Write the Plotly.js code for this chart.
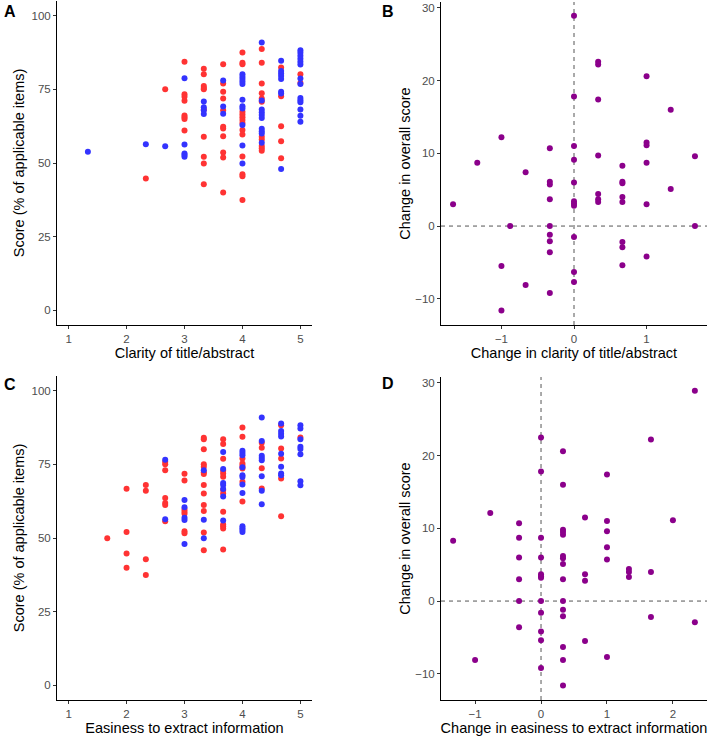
<!DOCTYPE html>
<html>
<head>
<meta charset="utf-8">
<script src="https://cdn.plot.ly/plotly-3.0.1.min.js"></script>
<style>html,body{margin:0;padding:0;background:#fff;}#chart{width:709px;height:737px;}</style>
</head>
<body>
<div id="chart"></div>
<script>
// Panel A: clarity of title/abstract vs score
var aRedX = [2.333, 2.667,
  3,3,3,3,3,3,3,3,
  3.333,3.333,3.333,3.333,3.333,3.333,3.333,3.333,3.333,3.333,
  3.667,3.667,3.667,3.667,3.667,3.667,3.667,3.667,3.667,3.667,3.667,
  4,4,4,4,4,4,4,4,4,4,4,4,4,4,
  4.333,4.333,4.333,4.333,4.333,4.333,4.333,4.333,4.333,4.333,4.333,
  4.667,4.667,4.667,4.667,4.667,
  5,5];
var aRedY = [44.7, 75.0,
  84.4,73.3,72.5,71.1,66.1,65.5,64.9,61.0,
  82.0,80.1,76.1,75.5,75.0,68.2,58.9,52.1,49.8,42.8,
  83.5,77.0,74.2,71.9,67.9,62.3,61.7,59.1,53.6,51.9,40.0,
  87.5,84.0,83.5,67.4,66.5,65.5,64.6,63.6,61.2,59.7,52.2,46.2,45.5,37.4,
  88.7,84.0,77.0,73.7,71.9,70.8,58.9,58.0,55.8,55.0,54.2,
  82.4,72.7,62.5,57.4,51.6,
  80.1,77.2];
var aBlueX = [1.333, 2.333, 2.667,
  3,3,3,3,3,
  3.333,3.333,3.333,3.333,
  3.667,3.667,3.667,
  4,4,4,4,4,4,4,4,4,4,4,
  4.333,4.333,4.333,4.333,4.333,4.333,4.333,4.333,4.333,4.333,
  4.667,4.667,4.667,4.667,4.667,4.667,4.667,4.667,
  5,5,5,5,5,5,5,5,5,5,5,5,5,5];
var aBlueY = [53.8, 56.4, 55.7,
  78.8,56.3,53.2,52.7,52.1,
  70.9,68.9,67.9,66.6,
  78.0,69.2,66.7,
  80.1,79.3,78.5,77.7,76.8,71.5,69.3,68.5,62.9,55.9,49.8,
  90.9,71.2,68.2,67.2,66.3,65.3,61.6,60.8,60.0,56.9,
  84.7,81.2,80.4,79.5,78.5,74.2,73.6,48.0,
  88.3,87.4,86.4,85.4,84.4,83.4,78.7,76.8,72.1,71.3,70.6,68.2,66.0,64.0];

// Panel B: change in clarity vs change in overall score
var bX = [-1.667,-1.333,-1,-1,-1,-0.88,-0.667,-0.667,
  -0.333,-0.333,-0.333,-0.333,-0.333,-0.333,-0.333,-0.333,-0.333,
  0,0,0,0,0,0,0,0,0,0,0,
  0.333,0.333,0.333,0.333,0.333,0.333,0.333,
  0.667,0.667,0.667,0.667,0.667,0.667,0.667,0.667,
  1,1,1,1,1,1,
  1.333,1.333,1.667,1.667];
var bY = [3.0,8.7,12.2,-5.5,-11.6,0,7.4,-8.1,
  10.7,6.1,5.7,3.7,0,-1.2,-2.1,-3.6,-9.2,
  28.9,17.8,11.0,9.1,6.0,3.4,3.1,2.8,-1.5,-6.3,-7.7,
  22.6,22.2,17.4,9.7,4.4,3.7,3.3,
  8.3,6.1,5.9,4.0,3.3,-2.2,-2.9,-5.4,
  20.6,11.5,11.1,8.7,3.0,-4.2,
  16.0,5.1,9.6,0];

// Panel C: easiness to extract information vs score
var cRedX = [1.667, 2,2,2,2, 2.333,2.333,2.333,2.333,
  2.667,2.667,2.667,2.667,2.667,2.667,2.667,
  3,3,3,3,3,3,3,
  3.333,3.333,3.333,3.333,3.333,3.333,3.333,3.333,3.333,3.333,3.333,3.333,3.333,
  3.667,3.667,3.667,3.667,3.667,3.667,3.667,3.667,3.667,3.667,3.667,3.667,3.667,
  4,4,4,4,4,4,4,4,
  4.333,4.333,4.333,4.333,
  4.667,4.667,4.667,4.667,4.667,
  5];
var cRedY = [49.9, 66.7,52.0,44.7,39.9, 68.0,66.0,42.8,37.4,
  75.9,75.0,73.0,63.6,61.9,61.2,55.7,
  71.8,69.5,59.7,58.9,58.2,52.3,51.6,
  84.0,83.5,80.1,75.0,74.2,72.3,71.7,68.0,65.1,61.2,59.2,51.9,45.8,
  83.5,81.9,76.9,72.8,71.9,70.8,66.3,65.1,58.9,54.6,54.0,53.2,46.1,
  87.5,84.4,77.0,75.3,74.5,73.6,69.1,62.4,
  82.3,80.6,73.7,66.8,
  88.3,80.4,77.0,70.2,57.4,
  84.1];
var cBlueX = [2.667,2.667,
  3,3,3,3,3,
  3.333,3.333,3.333,
  3.667,3.667,3.667,3.667,3.667,3.667,3.667,
  4,4,4,4,4,4,4,4,4,4,4,4,
  4.333,4.333,4.333,4.333,4.333,4.333,4.333,4.333,
  4.667,4.667,4.667,4.667,4.667,4.667,4.667,4.667,
  5,5,5,5,5,5,5,5];
var cBlueY = [76.6,56.4,
  62.9,60.4,56.9,56.1,48.0,
  73.0,56.2,49.9,
  79.2,73.4,68.7,68.0,66.6,64.1,55.9,
  79.6,78.9,78.1,74.0,71.3,70.7,68.2,65.3,54.0,53.3,52.7,52.0,
  90.9,82.9,77.9,77.2,76.4,71.0,66.0,61.5,
  88.9,86.3,85.4,84.5,78.6,74.2,71.9,71.3,
  88.3,87.2,83.5,81.0,80.2,78.4,69.3,67.9];

// Panel D: change in easiness vs change in overall score
var dX = [-1.333,-1,-0.77,
  -0.333,-0.333,-0.333,-0.333,-0.333,-0.333,
  0,0,0,0,0,0,0,0,0,0,0,0,
  0.333,0.333,0.333,0.333,0.333,0.333,0.333,0.333,0.333,0.333,0.333,0.333,0.333,0.333,0.333,
  0.667,0.667,0.667,0.667,
  1,1,1,1,1,1,
  1.333,1.333,1.333,
  1.667,1.667,1.667,
  2, 2.333,2.333];
var dY = [8.3,-8.1,12.1,
  10.7,8.7,6.0,3.0,0,-3.6,
  22.5,17.8,8.7,6.0,3.7,3.4,3.2,0,-1.6,-4.2,-5.4,-9.2,
  20.6,16.0,9.8,9.5,9.1,6.2,5.9,5.1,3.0,0,-1.2,-2.1,-6.3,-8.1,-11.6,
  11.5,3.7,2.8,-5.5,
  17.4,11.0,9.6,7.4,5.7,-7.7,
  4.4,4.0,3.3,
  22.2,4.0,-2.2,
  11.1, 28.9,-2.9];

var xTitles = ['Clarity of title/abstract', 'Change in clarity of title/abstract',
               'Easiness to extract information', 'Change in easiness to extract information'];
var yTitles = ['Score (% of applicable items)', 'Change in overall score'];
var panelLetters = ['A', 'B', 'C', 'D'];

var RED = 'rgb(255,51,51)', BLUE = 'rgb(51,51,255)', PURPLE = '#8B008B';
var mk = function (c) { return {color: c, size: 6, line: {width: 0}}; };

var traces = [
  {x: aRedX, y: aRedY, xaxis: 'x', yaxis: 'y', mode: 'markers', type: 'scatter', marker: mk(RED)},
  {x: aBlueX, y: aBlueY, xaxis: 'x', yaxis: 'y', mode: 'markers', type: 'scatter', marker: mk(BLUE)},
  {x: bX, y: bY, xaxis: 'x2', yaxis: 'y2', mode: 'markers', type: 'scatter', marker: mk(PURPLE)},
  {x: cRedX, y: cRedY, xaxis: 'x3', yaxis: 'y3', mode: 'markers', type: 'scatter', marker: mk(RED)},
  {x: cBlueX, y: cBlueY, xaxis: 'x3', yaxis: 'y3', mode: 'markers', type: 'scatter', marker: mk(BLUE)},
  {x: dX, y: dY, xaxis: 'x4', yaxis: 'y4', mode: 'markers', type: 'scatter', marker: mk(PURPLE)}
];

var W = 709, H = 737;
function dx(a, b) { return [a / W, b / W]; }
function dy(top, bottom) { return [1 - bottom / H, 1 - top / H]; }

var tickFont = {family: 'Liberation Sans, Arial, sans-serif', size: 11.5, color: '#4D4D4D'};
var titleFont = {family: 'Liberation Sans, Arial, sans-serif', size: 14.5, color: '#000'};
function ax(domain, range, title, standoff, extra) {
  var o = {
    domain: domain, range: range, title: {text: title, font: titleFont, standoff: standoff},
    showline: true, linecolor: '#000', linewidth: 1, mirror: false,
    ticks: 'outside', ticklen: 3, tickwidth: 1, tickcolor: '#333',
    tickfont: tickFont, showgrid: false, zeroline: false, fixedrange: true
  };
  for (var k in extra) o[k] = extra[k];
  return o;
}

var dashLine = {color: '#555', width: 1, dash: '4px,4px'};
var layout = {
  width: W, height: H, margin: {l: 0, r: 0, t: 0, b: 0},
  paper_bgcolor: '#fff', plot_bgcolor: '#fff', showlegend: false,
  font: {family: 'Liberation Sans, Arial, sans-serif'},
  xaxis: ax(dx(57, 312), [0.8, 5.2], xTitles[0], 4, {anchor: 'y', tickvals: [1, 2, 3, 4, 5]}),
  yaxis: ax(dy(1, 325), [-5, 105], yTitles[0], 3, {anchor: 'x', tickvals: [0, 25, 50, 75, 100]}),
  xaxis2: ax(dx(441, 707), [-1.833, 1.833], xTitles[1], 4, {anchor: 'y2', tickvals: [-1, 0, 1]}),
  yaxis2: ax(dy(2, 325), [-13.6, 30.8], yTitles[1], 1, {anchor: 'x2', tickvals: [-10, 0, 10, 20, 30]}),
  xaxis3: ax(dx(57, 312), [0.8, 5.2], xTitles[2], 4, {anchor: 'y3', tickvals: [1, 2, 3, 4, 5]}),
  yaxis3: ax(dy(376, 700), [-5, 105], yTitles[0], 3, {anchor: 'x3', tickvals: [0, 25, 50, 75, 100]}),
  xaxis4: ax(dx(441, 707), [-1.517, 2.517], xTitles[3], 4, {anchor: 'y4', tickvals: [-1, 0, 1, 2]}),
  yaxis4: ax(dy(377, 700), [-13.6, 30.8], yTitles[1], 1, {anchor: 'x4', tickvals: [-10, 0, 10, 20, 30]}),
  shapes: [
    {type: 'line', xref: 'x2', yref: 'y2 domain', x0: 0, x1: 0, y0: 0, y1: 1, line: dashLine, layer: 'below'},
    {type: 'line', xref: 'x2 domain', yref: 'y2', x0: 0, x1: 1, y0: 0, y1: 0, line: dashLine, layer: 'below'},
    {type: 'line', xref: 'x4', yref: 'y4 domain', x0: 0, x1: 0, y0: 0, y1: 1, line: dashLine, layer: 'below'},
    {type: 'line', xref: 'x4 domain', yref: 'y4', x0: 0, x1: 1, y0: 0, y1: 0, line: dashLine, layer: 'below'}
  ],
  annotations: [
    {text: '<b>' + panelLetters[0] + '</b>', xref: 'paper', yref: 'paper', x: 2 / W, y: 1 - 11 / H, xanchor: 'left', yanchor: 'middle', showarrow: false, font: {size: 16, color: '#000'}},
    {text: '<b>' + panelLetters[1] + '</b>', xref: 'paper', yref: 'paper', x: 380 / W, y: 1 - 11 / H, xanchor: 'left', yanchor: 'middle', showarrow: false, font: {size: 16, color: '#000'}},
    {text: '<b>' + panelLetters[2] + '</b>', xref: 'paper', yref: 'paper', x: 2 / W, y: 1 - 385 / H, xanchor: 'left', yanchor: 'middle', showarrow: false, font: {size: 16, color: '#000'}},
    {text: '<b>' + panelLetters[3] + '</b>', xref: 'paper', yref: 'paper', x: 380 / W, y: 1 - 384 / H, xanchor: 'left', yanchor: 'middle', showarrow: false, font: {size: 16, color: '#000'}}
  ]
};

Plotly.newPlot('chart', traces, layout, {staticPlot: true, displayModeBar: false});
</script>
</body>
</html>
